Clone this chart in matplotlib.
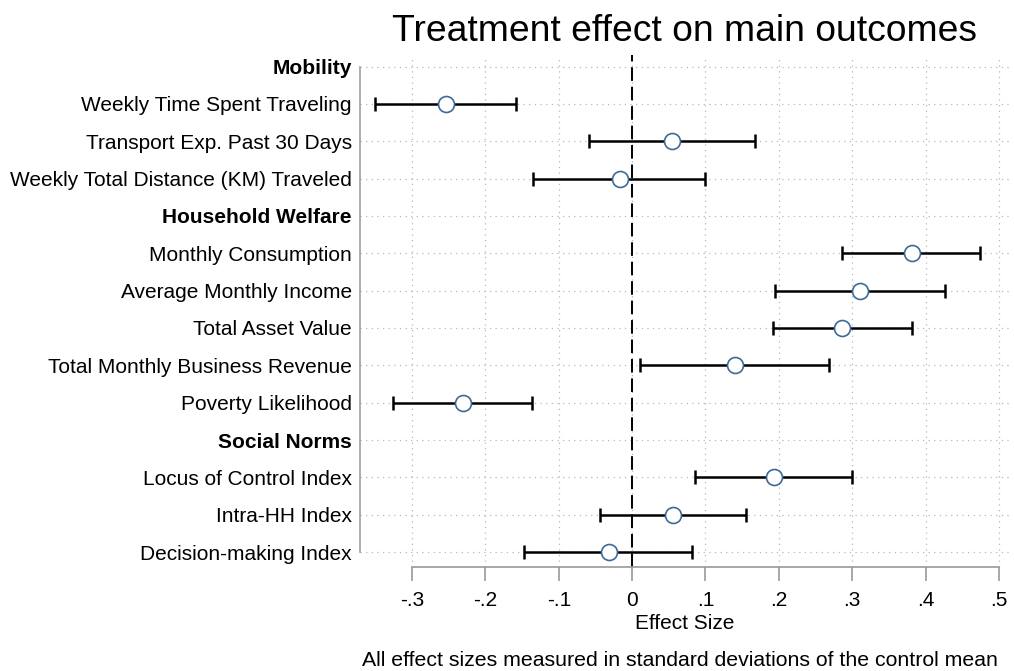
import numpy as np
import matplotlib
matplotlib.use("Agg")
import matplotlib.pyplot as plt

plt.rcParams['font.family'] = ['Liberation Sans', 'DejaVu Sans']

# rows from top to bottom; group headers carry no estimate
labels = ["Mobility",
          "Weekly Time Spent Traveling",
          "Transport Exp. Past 30 Days",
          "Weekly Total Distance (KM) Traveled",
          "Household Welfare",
          "Monthly Consumption",
          "Average Monthly Income",
          "Total Asset Value",
          "Total Monthly Business Revenue",
          "Poverty Likelihood",
          "Social Norms",
          "Locus of Control Index",
          "Intra-HH Index",
          "Decision-making Index"]
headers = ["Mobility", "Household Welfare", "Social Norms"]

est = [None, -0.254, 0.055, -0.017, None, 0.381, 0.311, 0.286, 0.140, -0.230,
       None, 0.194, 0.056, -0.032]
ci_lo = [None, -0.351, -0.059, -0.135, None, 0.286, 0.195, 0.192, 0.011, -0.326,
         None, 0.086, -0.044, -0.147]
ci_hi = [None, -0.158, 0.168, 0.100, None, 0.474, 0.426, 0.381, 0.269, -0.137,
         None, 0.300, 0.155, 0.082]

xticks = [-0.3, -0.2, -0.1, 0, 0.1, 0.2, 0.3, 0.4, 0.5]
xtick_labels = ["-.3", "-.2", "-.1", "0", ".1", ".2", ".3", ".4", ".5"]

fig = plt.figure(figsize=(10.14, 6.71), dpi=100)
ax = fig.add_axes([0.355, 0.155, 0.641, 0.763])

ypos = np.arange(len(labels))
rows = [i for i, e in enumerate(est) if e is not None]
e = np.array([est[i] for i in rows])
lo = np.array([ci_lo[i] for i in rows])
hi = np.array([ci_hi[i] for i in rows])

ax.axvline(0, color="black", lw=1.4, ls=(0, (7, 3)), zorder=2)
ax.errorbar(e, ypos[rows], xerr=[e - lo, hi - e], fmt="none", ecolor="black",
            elinewidth=1.8, capsize=5, capthick=1.8, zorder=3)
ax.plot(e, ypos[rows], "o", ms=11.5, mfc="white", mec="#3d6a96", mew=1.2, zorder=4)

ax.set_xlim(-0.371, 0.515)
ax.set_ylim(13.4, -0.31)

ax.set_xticks(xticks)
ax.set_xticklabels(xtick_labels, fontsize=15)
ax.set_yticks(ypos)
ax.set_yticklabels(labels, fontsize=15)
for t in ax.get_yticklabels():
    if t.get_text() in headers:
        t.set_fontweight("bold")

ax.tick_params(axis="y", length=0, pad=6)
ax.tick_params(axis="x", length=10, width=1.2, color="#9a9a9a", pad=7)

ax.grid(True, color="#b8b8b8", lw=0.9, ls=(0, (1, 3.5)))
ax.set_axisbelow(True)

for s in ["top", "right"]:
    ax.spines[s].set_visible(False)
ax.spines["left"].set_bounds(0, 13)
ax.spines["left"].set_color("#a0a0a0")
ax.spines["left"].set_linewidth(1.2)
ax.spines["bottom"].set_bounds(-0.3, 0.5)
ax.spines["bottom"].set_color("#9a9a9a")
ax.spines["bottom"].set_linewidth(1.2)

ax.set_xlabel("Effect Size", fontsize=15, labelpad=3)
ax.set_title("Treatment effect on main outcomes", fontsize=26.8, pad=10)
fig.text(0.357, 0.016, "All effect sizes measured in standard deviations of the control mean",
         fontsize=15.3, ha="left", va="center")

fig.savefig("out.png", dpi=100)
